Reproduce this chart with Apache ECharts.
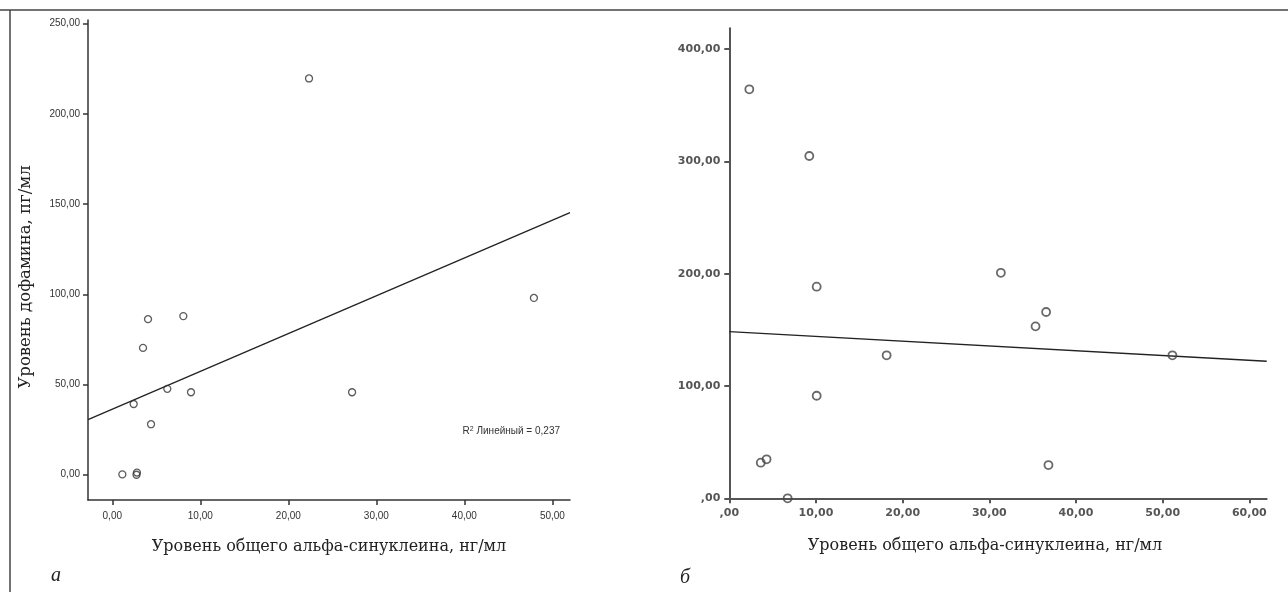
<!DOCTYPE html>
<html><head><meta charset="utf-8">
<script src="https://cdn.jsdelivr.net/npm/echarts@6/dist/echarts.min.js"></script>
<style>html,body{margin:0;padding:0;background:#fff}#c{width:1288px;height:592px}</style>
</head><body><div id="c"></div>
<script>
// ---- data ----
const xTicksA = [0, 10, 20, 30, 40, 50];
const yTicksA = [0, 50, 100, 150, 200, 250];
const xTicksB = [0, 10, 20, 30, 40, 50, 60];
const yTicksB = [0, 100, 200, 300, 400];
const alphaA = [22.35, 4.06, 8.07, 3.49, 6.25, 8.94, 27.24, 2.43, 4.40, 1.14, 2.75, 2.80, 47.9];
const dopaA  = [219.6, 86.2, 87.9, 70.3, 47.6, 45.7, 45.7, 39.2, 28.0, 0.2, 0.0, 1.2, 98.0];
const fitA   = [[-2.76, 30.5], [52, 145.2]];
const alphaB = [2.31, 9.23, 10.08, 31.33, 36.55, 35.33, 18.15, 51.12, 10.08, 3.63, 4.30, 6.73, 36.82];
const dopaB  = [364.2, 304.8, 188.4, 200.8, 165.9, 153.1, 127.3, 127.3, 91.3, 31.7, 34.7, 0.0, 29.6];
const fitB   = [[0, 148.4], [62, 122.0]];
const xName = 'Уровень общего альфа-синуклеина, нг/мл';
const yNameA = 'Уровень дофамина, пг/мл';

// ---- chart ----
const fmtA = v => v.toFixed(2).replace('.', ',');
const fmtB = v => (v === 0 ? ',00' : v.toFixed(2).replace('.', ','));
const pairs = (xs, ys) => xs.map((x, i) => [x, ys[i]]);
const serif = "'DejaVu Serif', 'Liberation Serif', serif";
const lblA = { fontFamily: "'Liberation Sans Narrow','Liberation Sans', Arial, sans-serif", fontSize: 10, color: '#333' };
const lblB = { fontFamily: "'DejaVu Sans', sans-serif", fontSize: 11, fontWeight: 'bold', color: '#555' };

const chart = echarts.init(document.getElementById('c'), null, { renderer: 'canvas' });
chart.setOption({
  animation: false,
  backgroundColor: '#fff',
  grid: [
    { left: 88, top: 20, width: 482, height: 480 },
    { left: 729.3, top: 28.3, width: 537.4, height: 470 }
  ],
  xAxis: [
    {
      gridIndex: 0, type: 'value', min: -2.76, max: 52,
      axisLine: { onZero: false, lineStyle: { color: '#333', width: 1.5 } },
      axisTick: { customValues: xTicksA, length: 5, lineStyle: { color: '#333', width: 1.5 } },
      axisLabel: Object.assign({ customValues: xTicksA, formatter: fmtA, margin: 11 }, lblA),
      splitLine: { show: false },
      name: xName, nameLocation: 'middle', nameGap: 39,
      nameTextStyle: { fontFamily: serif, fontSize: 16, color: '#222' }
    },
    {
      gridIndex: 1, type: 'value', min: 0, max: 62,
      axisLine: { onZero: false, lineStyle: { color: '#555', width: 2 } },
      axisTick: { customValues: xTicksB, length: 5, lineStyle: { color: '#555', width: 2 } },
      axisLabel: Object.assign({ customValues: xTicksB, formatter: fmtB, margin: 9 }, lblB),
      splitLine: { show: false },
      name: xName, nameLocation: 'middle', nameGap: 40,
      nameTextStyle: { fontFamily: serif, fontSize: 16, color: '#222', padding: [0, 26, 0, 0] }
    }
  ],
  yAxis: [
    {
      gridIndex: 0, type: 'value', min: -14, max: 252,
      axisLine: { show: true, onZero: false, lineStyle: { color: '#333', width: 1.5 } },
      axisTick: { show: true, customValues: yTicksA, length: 5, lineStyle: { color: '#333', width: 1.5 } },
      axisLabel: Object.assign({ customValues: yTicksA, formatter: fmtA, margin: 8 }, lblA),
      splitLine: { show: false },
      name: yNameA, nameLocation: 'middle', nameGap: 54,
      nameTextStyle: { fontFamily: serif, fontSize: 16.5, color: '#222', padding: [0, 34, 0, 0] }
    },
    {
      gridIndex: 1, type: 'value', min: 0, max: 418.5,
      axisLine: { show: true, onZero: false, lineStyle: { color: '#555', width: 2 } },
      axisTick: { show: true, customValues: yTicksB, length: 5, lineStyle: { color: '#555', width: 2 } },
      axisLabel: Object.assign({ customValues: yTicksB, formatter: fmtB, margin: 9 }, lblB),
      splitLine: { show: false }
    }
  ],
  series: [
    {
      type: 'line', xAxisIndex: 0, yAxisIndex: 0, data: fitA, symbol: 'none',
      lineStyle: { color: '#222', width: 1.3 }, silent: true, z: 1
    },
    {
      type: 'scatter', xAxisIndex: 0, yAxisIndex: 0, data: pairs(alphaA, dopaA),
      symbol: 'circle', symbolSize: 7,
      itemStyle: { color: 'rgba(0,0,0,0)', borderColor: '#333', borderWidth: 1.3 }, z: 2
    },
    {
      type: 'line', xAxisIndex: 1, yAxisIndex: 1, data: fitB, symbol: 'none',
      lineStyle: { color: '#222', width: 1.4 }, silent: true, z: 1
    },
    {
      type: 'scatter', xAxisIndex: 1, yAxisIndex: 1, data: pairs(alphaB, dopaB),
      symbol: 'circle', symbolSize: 8, clip: true,
      itemStyle: { color: 'rgba(0,0,0,0)', borderColor: '#444', borderWidth: 1.8 }, z: 2
    }
  ],
  graphic: [
    { type: 'line', shape: { x1: 0, y1: 10, x2: 1288, y2: 10 }, style: { stroke: '#444', lineWidth: 1.5 }, silent: true },
    { type: 'line', shape: { x1: 10, y1: 10, x2: 10, y2: 592 }, style: { stroke: '#444', lineWidth: 1.5 }, silent: true },
    {
      type: 'text', x: 560, y: 431, silent: true,
      style: {
        text: '{a|R}{s|2}{a| Линейный = 0,237}', align: 'right', verticalAlign: 'middle',
        rich: {
          a: { fontFamily: "'Liberation Sans', Arial, sans-serif", fontSize: 10, fill: '#333', verticalAlign: 'bottom' },
          s: { fontFamily: "'Liberation Sans', Arial, sans-serif", fontSize: 7, fill: '#333', verticalAlign: 'top', padding: [0, 0, 4, 0] }
        }
      }
    },
    {
      type: 'text', x: 51, y: 576, silent: true,
      style: { text: 'а', fontFamily: "'Liberation Serif', serif", fontStyle: 'italic', fontSize: 20, fill: '#222', verticalAlign: 'middle' }
    },
    {
      type: 'text', x: 680, y: 578, silent: true,
      style: { text: 'б', fontFamily: "'Liberation Serif', serif", fontStyle: 'italic', fontSize: 20, fill: '#222', verticalAlign: 'middle' }
    }
  ]
});
</script>
</body></html>
